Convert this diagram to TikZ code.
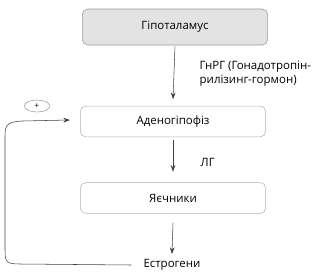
\documentclass[tikz,border=0pt]{standalone}
\usepackage{fontspec}
\setmainfont{Open Sans}
\usetikzlibrary{arrows.meta,shapes.geometric}
\begin{document}
\begin{tikzpicture}[
        x=0.75pt, y=-0.75pt,
        font=\fontsize{8.6}{10.5}\selectfont,
        organ/.style={
            draw=black!30,
            rounded corners=4pt,
            minimum width=139pt,
            minimum height=23pt,
            inner sep=0pt
        },
        flow/.style={
            draw=black!75,
            -{Stealth[length=5pt,width=3.5pt]}
        }
    ]
    \useasboundingbox (0,0) rectangle (322,276);

    % Ланцюг регуляції
    \node[organ, draw=black!40, fill=black!11, minimum height=27pt] (hyp) at (175,27)  {Гіпоталамус};
    \node[organ] (aden) at (173,121.5) {Аденогіпофіз};
    \node[organ] (ovar) at (173,198)   {Яєчники};
    \node[inner sep=1pt] (estr) at (172,265) {Естрогени};

    \draw[flow] (hyp.south) ++(0,1) -- ([yshift=5pt]aden.north);
    \draw[flow] ([yshift=-2pt]aden.south) -- ([yshift=8pt]ovar.north);
    \draw[flow] ([yshift=-7pt]ovar.south) -- ([yshift=3pt]estr.north);

    \node[anchor=west, align=left] (gnrg) at (195,74) {ГнРГ (Гонадотропін-\\рилізинг-гормон)};
    \node[anchor=west] (lg) at (196,162) {ЛГ};

    % Зворотний зв'язок
    \coordinate (back) at (70,120);
    \draw[flow] ([xshift=-8pt]estr.west) -- (20,264) .. controls (6,264) and (5,262) .. (5,250)
        -- (5,136) .. controls (5,124) and (8,122) .. (22,121) -- (back);
    \node[draw=black!40, ellipse, minimum width=19pt, minimum height=9pt, inner sep=0pt, font=\fontsize{6}{7}\selectfont] (plus) at (37,106) {+};
\end{tikzpicture}
\end{document}
